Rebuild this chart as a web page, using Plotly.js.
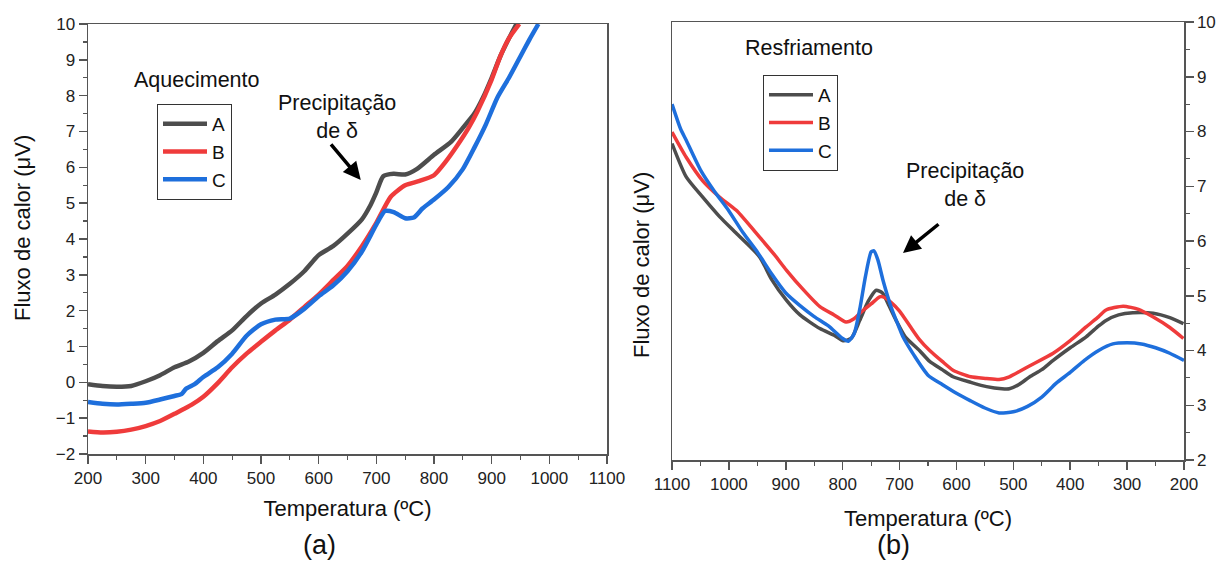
<!DOCTYPE html>
<html>
<head>
<meta charset="utf-8">
<script src="https://cdn.plot.ly/plotly-3.0.1.min.js"></script>
<style>html,body{margin:0;padding:0;background:#fff;}#chart{width:1225px;height:562px;}</style>
</head>
<body>
<div id="chart"></div>
<script>
// ---------- (a) Aquecimento (heating) ----------
const heatA_x = [200,225,250,275,300,325,350,375,400,425,450,475,500,525,550,575,600,625,650,675,690,700,712,730,750,770,800,830,850,870,885,900,915,930,943];
const heatA_y = [-0.05,-0.10,-0.12,-0.10,0.03,0.20,0.42,0.58,0.82,1.15,1.45,1.85,2.20,2.45,2.75,3.10,3.55,3.80,4.15,4.55,4.95,5.30,5.75,5.82,5.80,5.95,6.35,6.72,7.10,7.50,7.95,8.50,9.10,9.60,10.0];

const heatB_x = [200,225,250,275,300,325,350,365,380,400,425,450,475,500,525,550,575,600,625,650,675,700,725,750,775,800,820,840,860,875,900,915,930,948];
const heatB_y = [-1.37,-1.40,-1.38,-1.32,-1.22,-1.08,-0.88,-0.75,-0.62,-0.40,-0.02,0.42,0.80,1.13,1.45,1.75,2.10,2.45,2.85,3.25,3.80,4.45,5.18,5.50,5.62,5.78,6.15,6.60,7.10,7.55,8.45,9.10,9.60,10.0];

const heatC_x = [200,225,250,275,300,325,350,362,370,385,400,425,450,475,500,525,550,575,600,625,650,675,700,715,730,750,765,780,800,825,850,870,890,910,930,950,965,981];
const heatC_y = [-0.55,-0.60,-0.62,-0.60,-0.57,-0.48,-0.38,-0.33,-0.18,-0.05,0.15,0.42,0.80,1.30,1.62,1.75,1.78,2.05,2.40,2.70,3.10,3.65,4.40,4.78,4.75,4.58,4.60,4.85,5.10,5.45,5.95,6.55,7.20,7.95,8.50,9.10,9.55,10.0];

// ---------- (b) Resfriamento (cooling) ----------
const coolA_x = [1100,1075,1046,1016,987,946,925,899,875,840,815,799,785,770,755,741,730,720,706,690,665,647,625,606,575,547,520,507,490,471,450,430,400,372,350,337,315,290,254,225,201];
const coolA_y = [7.78,7.17,6.80,6.44,6.14,5.71,5.30,4.92,4.65,4.40,4.28,4.18,4.22,4.55,4.90,5.10,5.05,4.85,4.55,4.25,4.00,3.80,3.65,3.52,3.42,3.34,3.30,3.30,3.38,3.52,3.65,3.82,4.05,4.25,4.45,4.55,4.65,4.69,4.68,4.60,4.49];

const coolB_x = [1100,1075,1046,1016,987,946,920,899,870,840,815,794,780,770,750,735,729,715,700,680,665,647,625,606,575,547,525,507,475,430,400,372,350,337,307,280,254,225,201];
const coolB_y = [7.99,7.53,7.10,6.80,6.56,6.07,5.75,5.47,5.12,4.80,4.65,4.52,4.58,4.68,4.85,4.98,4.98,4.88,4.72,4.42,4.20,4.00,3.80,3.64,3.52,3.49,3.47,3.52,3.70,3.95,4.18,4.43,4.62,4.74,4.81,4.75,4.61,4.42,4.22];

const coolC_x = [1100,1085,1075,1050,1025,1000,975,950,925,900,875,850,825,800,790,780,770,760,750,745,738,729,715,700,694,675,650,625,600,575,550,525,500,475,450,425,400,375,350,325,300,275,250,225,200];
const coolC_y = [8.50,8.05,7.84,7.30,6.90,6.55,6.15,5.80,5.40,5.05,4.82,4.62,4.45,4.22,4.17,4.30,4.75,5.35,5.80,5.82,5.65,5.28,4.80,4.40,4.25,3.92,3.55,3.38,3.22,3.08,2.95,2.86,2.88,2.98,3.15,3.40,3.60,3.82,4.00,4.12,4.14,4.12,4.05,3.95,3.82];

const seriesNames = ['A','B','C'];
const seriesColors = ['#4d4d4d','#ef3b3b','#1e6fdc'];

const FONT = 'Arial, "Liberation Sans", sans-serif';
const W = 1225, H = 562;
const px = v => v / W;
const py = v => 1 - v / H;

const heat = [[heatA_x,heatA_y],[heatB_x,heatB_y],[heatC_x,heatC_y]];
const cool = [[coolA_x,coolA_y],[coolB_x,coolB_y],[coolC_x,coolC_y]];

const traces = [];
heat.forEach((d,i) => traces.push({
  x: d[0], y: d[1], type: 'scatter', mode: 'lines', name: seriesNames[i],
  line: {color: seriesColors[i], width: 4.5, shape: 'spline', smoothing: 0.6},
  xaxis: 'x', yaxis: 'y', legend: 'legend'
}));
cool.forEach((d,i) => traces.push({
  x: d[0], y: d[1], type: 'scatter', mode: 'lines', name: seriesNames[i],
  line: {color: seriesColors[i], width: 3.5, shape: 'spline', smoothing: 0.6},
  xaxis: 'x2', yaxis: 'y2', legend: 'legend2'
}));

const axisCommon = {
  showgrid: false, zeroline: false, showline: true, linecolor: '#555', linewidth: 1.5,
  mirror: true, ticks: 'outside', ticklen: 8, tickwidth: 1.5, tickcolor: '#555',
  tickfont: {family: FONT, size: 17, color: '#222'},
  automargin: false
};
const minorCommon = {ticks: 'outside', ticklen: 4, tickwidth: 1.2, tickcolor: '#555'};
const titleFont = {family: FONT, size: 22, color: '#111'};
const annFont = {family: FONT, size: 21.5, color: '#111'};

function txt(x, y, text, font, extra) {
  return Object.assign({xref: 'paper', yref: 'paper', x: px(x), y: py(y), text: text,
    showarrow: false, xanchor: 'center', yanchor: 'middle', font: font}, extra || {});
}

const layout = {
  width: W, height: H,
  margin: {l: 0, r: 0, t: 0, b: 0},
  paper_bgcolor: '#fff', plot_bgcolor: '#fff',
  font: {family: FONT, color: '#111'},
  xaxis: Object.assign({}, axisCommon, {
    domain: [px(88), px(607)], range: [200, 1100], dtick: 100, tick0: 200, anchor: 'y',
    minor: Object.assign({dtick: 50}, minorCommon),
    title: {text: 'Temperatura (ºC)', font: titleFont, standoff: 13}
  }),
  yaxis: Object.assign({}, axisCommon, {
    domain: [py(454), py(24)], range: [-2, 10], dtick: 1, anchor: 'x',
    minor: Object.assign({dtick: 0.5}, minorCommon)
  }),
  xaxis2: Object.assign({}, axisCommon, {
    domain: [px(672), px(1184)], range: [1100, 200], dtick: 100, tick0: 200, anchor: 'y2',
    minor: Object.assign({dtick: 50}, minorCommon),
    title: {text: 'Temperatura (ºC)', font: titleFont, standoff: 17}
  }),
  yaxis2: Object.assign({}, axisCommon, {
    domain: [py(460), py(22)], range: [2, 10], dtick: 1, anchor: 'x2', side: 'right',
    minor: Object.assign({dtick: 0.5}, minorCommon)
  }),
  legend: {
    x: px(157), y: py(104), xanchor: 'left', yanchor: 'top',
    bgcolor: '#fff', bordercolor: '#333', borderwidth: 1,
    font: {family: FONT, size: 19, color: '#111'},
    itemwidth: 44, traceorder: 'normal'
  },
  legend2: {
    x: px(763), y: py(75), xanchor: 'left', yanchor: 'top',
    bgcolor: '#fff', bordercolor: '#333', borderwidth: 1,
    font: {family: FONT, size: 19, color: '#111'},
    itemwidth: 44, traceorder: 'normal'
  },
  annotations: [
    txt(197, 80, 'Aquecimento', annFont),
    txt(809, 48, 'Resfriamento', annFont),
    txt(337, 117, 'Precipitação<br>de δ', annFont),
    txt(965, 185, 'Precipitação<br>de δ', annFont),
    {xref: 'x', yref: 'y', x: 673, y: 5.65, ax: -31, ay: -37, text: '', showarrow: true,
     arrowhead: 2, arrowsize: 1, arrowwidth: 3.5, arrowcolor: '#000'},
    {xref: 'x2', yref: 'y2', x: 694, y: 5.78, ax: 37, ay: -30, text: '', showarrow: true,
     arrowhead: 2, arrowsize: 1, arrowwidth: 3.5, arrowcolor: '#000'},
    txt(22, 228, 'Fluxo de calor (μV)', titleFont, {textangle: -90}),
    txt(641, 265, 'Fluxo de calor (μV)', titleFont, {textangle: -90}),
    txt(319, 545, '(a)', {family: FONT, size: 27, color: '#111'}),
    txt(893, 545, '(b)', {family: FONT, size: 27, color: '#111'})
  ],
  showlegend: true
};

Plotly.newPlot('chart', traces, layout, {displayModeBar: false, staticPlot: true});
</script>
</body>
</html>
